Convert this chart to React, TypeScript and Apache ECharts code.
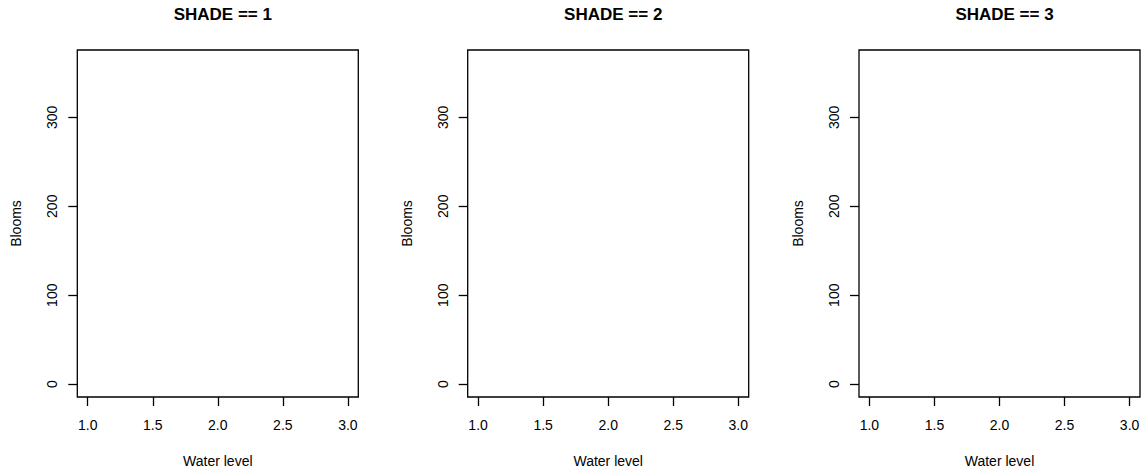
import React, { useEffect, useRef } from "react";
import * as echarts from "echarts";

const panelTitles = ["SHADE == 1", "SHADE == 2", "SHADE == 3"];
const xTicks = [1.0, 1.5, 2.0, 2.5, 3.0];
const yTicks = [0, 100, 200, 300];
const xRange = [0.92, 3.08];
const yRange = [-14.45, 375.7];
const xLabel = "Water level";
const yLabel = "Blooms";
// each panel has no plotted points
const panelPoints: number[][][] = [[], [], []];

const FONT = "'Liberation Sans', Arial, Helvetica, sans-serif";
const gridLefts = [77.3, 467.7, 859];
const gridWidth = 281;
const gridTop = 50;
const gridHeight = 349;

export default function App() {
  const ref = useRef<HTMLDivElement>(null);
  useEffect(() => {
    if (!ref.current) return;
    const chart = echarts.init(ref.current, undefined, { renderer: "svg" });
    const grids = gridLefts.map((l) => ({
      left: l,
      top: gridTop,
      width: gridWidth,
      height: gridHeight,
      show: true,
      borderColor: "#000",
      borderWidth: 1.3,
      backgroundColor: "transparent",
    }));
    const xAxes = panelTitles.map((_, i) => ({
      type: "value",
      gridIndex: i,
      position: "bottom",
      min: xRange[0],
      max: xRange[1],
      axisLine: { show: false, onZero: false },
      splitLine: { show: false },
      axisTick: {
        show: true,
        inside: false,
        length: 9,
        customValues: xTicks,
        lineStyle: { color: "#000", width: 1.3 },
      },
      axisLabel: {
        show: true,
        customValues: xTicks,
        margin: 21,
        color: "#000",
        fontSize: 14,
        fontFamily: FONT,
        formatter: (v: number) => v.toFixed(1),
      },
      name: xLabel,
      nameLocation: "middle",
      nameGap: 57,
      nameTextStyle: { color: "#000", fontSize: 14, fontFamily: FONT },
    }));
    const yAxes = panelTitles.map((_, i) => ({
      type: "value",
      gridIndex: i,
      position: "left",
      min: yRange[0],
      max: yRange[1],
      axisLine: { show: false, onZero: false },
      splitLine: { show: false },
      axisTick: {
        show: true,
        inside: false,
        length: 9,
        customValues: yTicks,
        lineStyle: { color: "#000", width: 1.3 },
      },
      axisLabel: {
        show: true,
        customValues: yTicks,
        rotate: 90,
        margin: 18,
        color: "#000",
        fontSize: 14,
        fontFamily: FONT,
      },
      name: yLabel,
      nameLocation: "middle",
      nameGap: 54,
      nameTextStyle: { color: "#000", fontSize: 14, fontFamily: FONT },
    }));
    const titles = panelTitles.map((t, i) => ({
      text: t,
      left: gridLefts[i] + gridWidth / 2,
      textAlign: "center",
      top: 1,
      textStyle: { color: "#000", fontSize: 17, fontWeight: "bold", fontFamily: FONT },
    }));
    chart.setOption({
      animation: false,
      backgroundColor: "#fff",
      title: titles,
      grid: grids,
      xAxis: xAxes,
      yAxis: yAxes,
      series: panelPoints.map((pts, i) => ({
        type: "scatter",
        xAxisIndex: i,
        yAxisIndex: i,
        data: pts,
      })),
    });
    return () => chart.dispose();
  }, []);
  return (
    <div
      ref={ref}
      style={{ position: "absolute", left: 0, top: 0, width: 1144, height: 473 }}
    />
  );
}
